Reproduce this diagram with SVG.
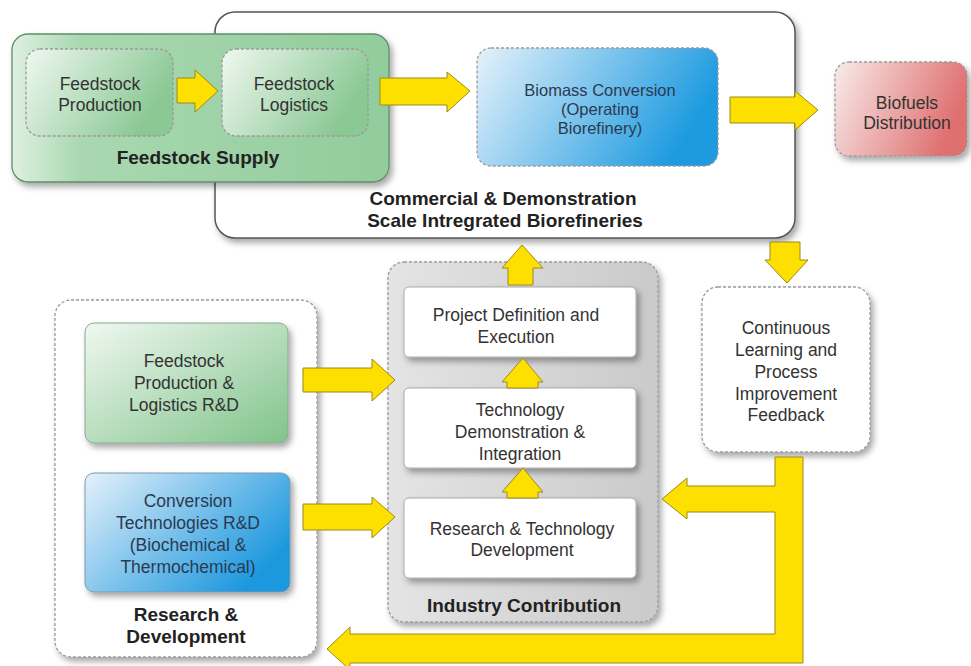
<svg xmlns="http://www.w3.org/2000/svg" width="971" height="666" viewBox="0 0 971 666">
<style>
text{font-family:"Liberation Sans",Arial,sans-serif;text-anchor:middle;}
.t{font-size:17.5px;fill:#333;}
.tb{font-size:17.5px;fill:#2b3a52;}
.ts{font-size:16.5px;fill:#2b3a52;}
.b{font-size:19px;font-weight:bold;fill:#222;}
.dash{stroke:#9a9a9a;stroke-width:1.3;stroke-dasharray:3 2;}
.arr{fill:#fde000;stroke:#9a8a1a;stroke-width:1;stroke-linejoin:miter;}
</style>
<defs>
<filter id="sh" x="-10%" y="-10%" width="130%" height="135%"><feDropShadow dx="3" dy="4" stdDeviation="3" flood-color="#000" flood-opacity="0.35"/></filter>
<linearGradient id="gSupply" x1="0" y1="0" x2="1" y2="0"><stop offset="0" stop-color="#dff0e1"/><stop offset="0.18" stop-color="#a9d8b0"/><stop offset="1" stop-color="#92cc9c"/></linearGradient>
<linearGradient id="gFeed" x1="0" y1="0" x2="1" y2="0.4"><stop offset="0" stop-color="#f0f8f1"/><stop offset="1" stop-color="#8ac894"/></linearGradient>
<linearGradient id="gBlue" x1="0" y1="0" x2="1" y2="0.3"><stop offset="0" stop-color="#e6f2fb"/><stop offset="1" stop-color="#1e9be0"/></linearGradient>
<linearGradient id="gRed" x1="0" y1="0" x2="1" y2="0.3"><stop offset="0" stop-color="#f8ecea"/><stop offset="1" stop-color="#df7070"/></linearGradient>
<linearGradient id="gRDg" x1="0" y1="0" x2="1" y2="1"><stop offset="0" stop-color="#f0f8f1"/><stop offset="1" stop-color="#80c38a"/></linearGradient>
<linearGradient id="gRDb" x1="0" y1="0" x2="1" y2="0.6"><stop offset="0" stop-color="#e6f1fa"/><stop offset="1" stop-color="#1c98de"/></linearGradient>
<linearGradient id="gGray" x1="0" y1="0" x2="1" y2="0"><stop offset="0" stop-color="#e4e4e4"/><stop offset="1" stop-color="#cacaca"/></linearGradient>
</defs>
<rect width="971" height="666" fill="#fff"/>

<g id="commercial">
<rect x="215" y="12" width="580" height="226" rx="20" fill="#fff" stroke="#555" stroke-width="1.5" filter="url(#sh)"/>
<text class="b" x="503" y="205">Commercial &amp; Demonstration</text>
<text class="b" x="505" y="227">Scale Intregrated Biorefineries</text>
</g>

<g id="feedstock-supply">
<rect x="12" y="34" width="377" height="148" rx="16" fill="url(#gSupply)" stroke="#5f8f68" stroke-width="1.3" filter="url(#sh)"/>
<text class="b" x="198" y="164">Feedstock Supply</text>
</g>

<g id="feedstock-production">
<rect x="26" y="49" width="147" height="87" rx="14" fill="url(#gFeed)" class="dash"/>
<text class="t" x="100" y="90">Feedstock</text>
<text class="t" x="100" y="111">Production</text>
</g>

<g id="feedstock-logistics">
<rect x="222" y="49" width="146" height="87" rx="14" fill="url(#gFeed)" class="dash"/>
<text class="t" x="294" y="90">Feedstock</text>
<text class="t" x="294" y="111">Logistics</text>
</g>

<g id="biomass-conversion">
<rect x="477" y="48" width="241" height="118" rx="14" fill="url(#gBlue)" class="dash"/>
<text class="ts" x="600" y="96">Biomass Conversion</text>
<text class="ts" x="600" y="115">(Operating</text>
<text class="ts" x="600" y="134">Biorefinery)</text>
</g>

<g id="biofuels-distribution">
<rect x="835" y="62" width="132" height="94" rx="14" fill="url(#gRed)" class="dash" filter="url(#sh)"/>
<text class="t" x="907" y="109">Biofuels</text>
<text class="t" x="907" y="129">Distribution</text>
</g>

<g id="research-development">
<rect x="55" y="300" width="262" height="357" rx="16" fill="#fff" class="dash" filter="url(#sh)"/>
<text class="b" x="186" y="621">Research &amp;</text>
<text class="b" x="186" y="643">Development</text>
</g>

<g id="feedstock-rd">
<rect x="85" y="323" width="203" height="120" rx="9" fill="url(#gRDg)" stroke="#8aa890" stroke-width="1" filter="url(#sh)"/>
<text class="t" x="184" y="367">Feedstock</text>
<text class="t" x="184" y="389">Production &amp;</text>
<text class="t" x="184" y="411">Logistics R&amp;D</text>
</g>

<g id="conversion-rd">
<rect x="85" y="473" width="205" height="119" rx="9" fill="url(#gRDb)" stroke="#7a9ab0" stroke-width="1" filter="url(#sh)"/>
<text class="tb" x="188" y="507">Conversion</text>
<text class="tb" x="188" y="529">Technologies R&amp;D</text>
<text class="tb" x="188" y="551">(Biochemical &amp;</text>
<text class="tb" x="188" y="573">Thermochemical)</text>
</g>

<g id="industry-contribution">
<rect x="388" y="262" width="270" height="360" rx="16" fill="url(#gGray)" class="dash" filter="url(#sh)"/>
<text class="b" x="524" y="612">Industry Contribution</text>
</g>

<g id="project-definition">
<rect x="404" y="287" width="232" height="70" rx="5" fill="#fff" stroke="#aaa" stroke-width="1" filter="url(#sh)"/>
<text class="t" x="516" y="321">Project Definition and</text>
<text class="t" x="516" y="343">Execution</text>
</g>

<g id="technology-demonstration">
<rect x="404" y="388" width="232" height="80" rx="5" fill="#fff" stroke="#aaa" stroke-width="1" filter="url(#sh)"/>
<text class="t" x="520" y="416">Technology</text>
<text class="t" x="520" y="438">Demonstration &amp;</text>
<text class="t" x="520" y="460">Integration</text>
</g>

<g id="research-technology">
<rect x="404" y="498" width="232" height="80" rx="5" fill="#fff" stroke="#aaa" stroke-width="1" filter="url(#sh)"/>
<text class="t" x="522" y="535">Research &amp; Technology</text>
<text class="t" x="522" y="556">Development</text>
</g>

<g id="continuous-learning">
<rect x="702" y="287" width="168" height="165" rx="16" fill="#fff" class="dash" filter="url(#sh)"/>
<text class="t" x="786" y="334">Continuous</text>
<text class="t" x="786" y="356">Learning and</text>
<text class="t" x="786" y="378">Process</text>
<text class="t" x="786" y="400">Improvement</text>
<text class="t" x="786" y="421">Feedback</text>
</g>

<g id="connectors">
<polygon class="arr" points="177,78 195,78 195,70 218,91 195,112 195,103 177,103"/>
<polygon class="arr" points="380,78 447,78 447,72 470,91 447,112 447,105 380,105"/>
<polygon class="arr" points="730,97 795,97 795,91 818,110 795,130 795,123 730,123"/>
<polygon class="arr" points="522,245 543,268 533,268 533,285 508,285 508,268 502,268"/>
<polygon class="arr" points="770,242 800,242 800,260 808,260 787,283 765,260 770,260"/>
<polygon class="arr" points="523,358 543,382 538,382 538,388 507,388 507,382 502,382"/>
<polygon class="arr" points="523,468 543,492 538,492 538,498 507,498 507,492 502,492"/>
<polygon class="arr" points="303,368 372,368 372,359 395,380 372,401 372,392 303,392"/>
<polygon class="arr" points="303,504 372,504 372,497 395,517 372,538 372,530 303,530"/>
<polygon class="arr" points="803,457 803,663 350,663 350,670 327,649 350,627 350,634 775,634 775,512 687,512 687,519 662,499 687,478 687,486 775,486 775,457"/>
</g>
</svg>
